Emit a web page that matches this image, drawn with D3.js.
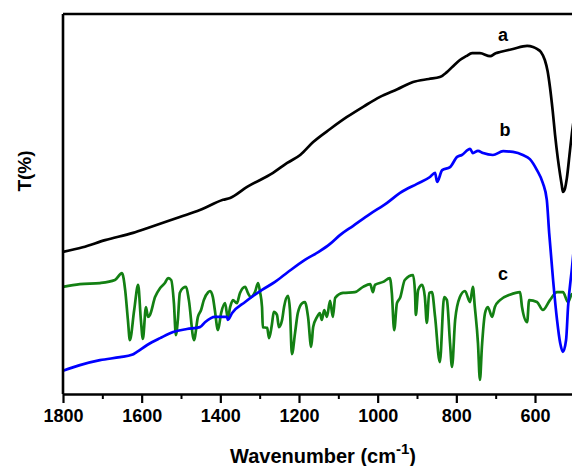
<!DOCTYPE html>
<html>
<head>
<meta charset="utf-8">
<script src="https://cdn.jsdelivr.net/npm/d3@7"></script>
<style>
  body { margin: 0; background: #fff; }
  text { font-family: Arial, "Liberation Sans", sans-serif; font-weight: bold; }
</style>
</head>
<body>
<svg id="chart" width="572" height="466"></svg>
<script>
// wavenumber (cm-1) and transmittance (arbitrary offset units)
const wnA = [1800,1750,1693,1622,1579,1503,1452,1393,1375,1332,1266,1230,1197,1164,1120,1078,1035,994,950,910,870,842,824,805,791,775,760,740,714,700,689,656,620,605,595,585,575,568,562,555,549,542,536,532,529,524,519,511,506,498];
const tA  = [37.4,38.6,40.5,42.4,43.9,46.6,48.4,51.1,51.6,54.5,58.2,60.8,62.9,66.3,69.8,72.9,75.7,78.2,80.2,82.1,82.9,83.4,84.7,86.6,87.9,88.9,89.7,89.7,88.9,89.7,90.0,90.8,91.6,91.3,90.8,90.0,87.9,85.0,80.8,74.5,68.2,62.0,57.6,55.0,53.2,54.0,56.8,64.2,68.7,74.7];

const wnB = [1800,1757,1706,1655,1625,1612,1586,1553,1520,1485,1452,1439,1414,1383,1381,1370,1337,1294,1261,1228,1185,1150,1121,1096,1063,1019,976,943,900,867,854,849,836,816,798,786,765,758,745,732,707,681,656,631,613,595,580,570,564,554,544,536,529,521,516,506,498];
const tB  = [6.1,7.6,8.9,9.7,10.3,11.1,12.9,14.7,16.3,17.1,17.6,18.9,20.3,20.3,19.5,21.3,24.2,27.4,29.5,32.1,35.3,37.4,39.5,41.8,44.2,47.4,50.3,52.9,55.3,57.1,58.2,55.8,58.9,59.7,62.4,62.9,64.5,63.4,64.0,63.4,62.9,63.9,63.7,62.9,61.8,58.9,55.5,51.1,42.4,30.0,19.5,13.4,11.1,14.2,22.9,33.2,41.8];

const wnC = [1800,1757,1706,1668,1650,1642,1635,1630,1619,1609,1602,1597,1589,1584,1579,1566,1553,1541,1533,1525,1518,1513,1508,1503,1495,1487,1480,1467,1457,1449,1442,1431,1426,1419,1414,1406,1398,1388,1381,1375,1368,1358,1350,1337,1330,1322,1312,1304,1299,1294,1292,1281,1276,1269,1264,1256,1251,1243,1238,1228,1223,1218,1210,1203,1192,1185,1177,1169,1164,1154,1147,1142,1136,1129,1121,1114,1108,1088,1058,1037,1019,1012,1007,986,969,964,958,951,943,931,910,905,903,897,887,880,875,869,862,854,842,831,824,816,811,803,791,778,765,758,753,745,740,735,727,720,709,702,689,664,638,633,620,615,595,580,562,544,529,516,506,498];
const tC  = [28.2,28.9,29.2,30.0,31.8,27.4,19.5,14.2,22.1,28.7,19.5,14.5,22.9,20.3,20.8,25.5,27.9,29.2,30.5,30.0,23.9,15.5,19.5,26.6,27.9,28.2,24.7,14.2,20.3,22.1,24.7,26.8,27.1,25.5,22.1,16.8,21.3,23.9,20.0,22.9,24.7,23.9,26.6,28.2,26.6,25.5,26.8,29.2,26.8,22.9,17.6,17.4,14.7,18.2,21.6,20.8,17.6,19.5,22.9,25.8,22.1,10.5,16.1,21.3,23.9,24.2,20.3,12.4,17.6,20.3,21.3,19.5,22.1,20.3,24.5,20.3,25.3,26.6,26.8,28.2,28.9,26.8,28.7,29.5,30.5,26.6,16.8,23.9,25.3,30.0,31.3,26.6,20.8,27.4,28.7,25.5,18.7,26.6,26.8,20.3,8.4,25.5,24.7,13.4,7.1,19.5,25.5,27.1,24.2,28.2,22.9,13.4,3.7,12.4,21.3,22.9,20.3,22.9,24.7,26.1,26.8,22.9,18.9,24.7,24.2,22.1,24.7,26.8,26.8,24.2,26.3,26.0];

const majorTicks = [1800, 1600, 1400, 1200, 1000, 800, 600];
const minorTicks = [1700, 1500, 1300, 1100, 900, 700, 500];

const series = [
  {name: "a", wn: wnA, t: tA, color: "#000000", lx: 503, ly: 35},
  {name: "b", wn: wnB, t: tB, color: "#0000ff", lx: 505, ly: 130},
  {name: "c", wn: wnC, t: tC, color: "#138013", lx: 503, ly: 274}
];

const svg = d3.select("#chart");
const plotLeft = 63, plotTop = 14, plotBottom = 394;

const x = d3.scaleLinear().domain([1800, 400]).range([plotLeft, plotLeft + 1400 * 472 / 1200]);
const y = d3.scaleLinear().domain([0, 100]).range([plotBottom, plotTop]);

// curves
const line = d3.line()
  .x(d => x(d[0]))
  .y(d => y(d[1]))
  .curve(d3.curveMonotoneX);

// draw c first so b sits on top where they cross
[series[2], series[0], series[1]].forEach(s => {
  svg.append("path")
    .datum(d3.zip(s.wn, s.t))
    .attr("d", line)
    .attr("fill", "none")
    .attr("stroke", s.color)
    .attr("stroke-width", 2.7)
    .attr("stroke-linejoin", "round");
  svg.append("text")
    .attr("x", s.lx).attr("y", s.ly)
    .attr("text-anchor", "middle")
    .attr("dominant-baseline", "central")
    .attr("font-size", 18)
    .text(s.name);
});

// frame: top and left lines
svg.append("line")
  .attr("x1", plotLeft).attr("x2", x(400))
  .attr("y1", plotTop).attr("y2", plotTop)
  .attr("stroke", "#000").attr("stroke-width", 2.6);
svg.append("line")
  .attr("x1", plotLeft).attr("x2", plotLeft)
  .attr("y1", plotTop).attr("y2", plotBottom)
  .attr("stroke", "#000").attr("stroke-width", 2.6);

// bottom axis
const gMinor = svg.append("g")
  .attr("transform", `translate(0,${plotBottom})`)
  .call(d3.axisBottom(x).tickValues(minorTicks).tickSize(5).tickFormat(""));
gMinor.select(".domain").remove();
gMinor.selectAll("line").attr("stroke-width", 2);

const gx = svg.append("g")
  .attr("transform", `translate(0,${plotBottom})`)
  .call(d3.axisBottom(x).tickValues(majorTicks).tickFormat(d3.format("d"))
    .tickSize(9).tickSizeOuter(0).tickPadding(6));
gx.select(".domain").attr("stroke-width", 2.6);
gx.selectAll("line").attr("stroke-width", 2.2);
gx.selectAll("text")
  .attr("font-size", 18)
  .attr("font-family", "Arial, 'Liberation Sans', sans-serif")
  .attr("font-weight", "bold")
  .attr("fill", "#000");

// axis titles
const xt = svg.append("text")
  .attr("x", 230).attr("y", 463)
  .attr("font-size", 20);
xt.append("tspan").text("Wavenumber (cm");
xt.append("tspan").attr("dy", -9).attr("font-size", 15).text("-1");
xt.append("tspan").attr("dy", 9).text(")");

svg.append("text")
  .attr("transform", "translate(31,171) rotate(-90)")
  .attr("text-anchor", "middle")
  .attr("font-size", 19)
  .text("T(%)");
</script>
</body>
</html>
